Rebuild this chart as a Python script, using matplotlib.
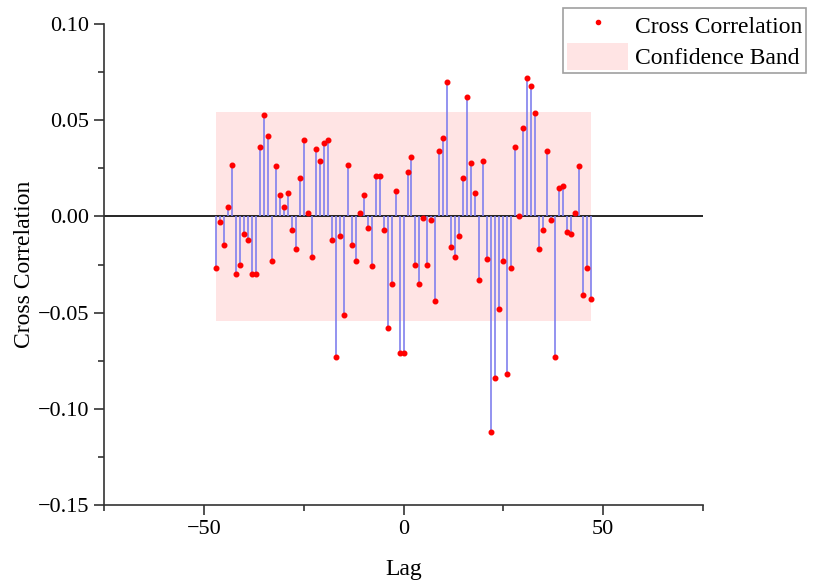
import numpy as np
import matplotlib
matplotlib.use("Agg")
import matplotlib.pyplot as plt
from matplotlib.ticker import MultipleLocator, FuncFormatter
from matplotlib.lines import Line2D
from matplotlib.patches import Patch

# lags y valores de correlacion cruzada
lags = np.arange(-47, 48)
ccf = [-0.027, -0.003, -0.015, 0.005, 0.027, -0.030, -0.025, -0.009, -0.012, -0.030,
       -0.030, 0.036, 0.053, 0.042, -0.023, 0.026, 0.011, 0.005, 0.012, -0.007,
       -0.017, 0.020, 0.040, 0.002, -0.021, 0.035, 0.029, 0.038, 0.040, -0.012,
       -0.073, -0.010, -0.051, 0.027, -0.015, -0.023, 0.002, 0.011, -0.006, -0.026,
       0.021, 0.021, -0.007, -0.058, -0.035, 0.013, -0.071, -0.071, 0.023, 0.031,
       -0.025, -0.035, -0.001, -0.025, -0.002, -0.044, 0.034, 0.041, 0.070, -0.016,
       -0.021, -0.010, 0.020, 0.062, 0.028, 0.012, -0.033, 0.029, -0.022, -0.112,
       -0.084, -0.048, -0.023, -0.082, -0.027, 0.036, 0.0004, 0.046, 0.072, 0.068,
       0.054, -0.017, -0.007, 0.034, -0.002, -0.073, 0.015, 0.016, -0.008, -0.009,
       0.002, 0.026, -0.041, -0.027, -0.043]
conf = 0.0544  # banda de confianza

plt.rcParams['font.family'] = ['Liberation Serif', 'DejaVu Serif']

fig = plt.figure(figsize=(8.16, 5.85), dpi=100)
ax = fig.add_axes([0.1275, 0.1368, 0.734, 0.822])

band_color = '#ffe4e4'
ax.fill_between([lags[0], lags[-1]], -conf, conf, color=band_color, lw=0, zorder=1)
ax.axhline(0, color='black', lw=1.2, zorder=2)
ax.vlines(lags, 0, ccf, color='#8080ee', lw=1.2, zorder=3)
ax.plot(lags, ccf, 'o', color='red', markersize=3.3, zorder=4)

ax.set_xlim(-75, 75)
ax.set_ylim(-0.15, 0.10)
ax.xaxis.set_major_locator(MultipleLocator(50))
ax.xaxis.set_minor_locator(MultipleLocator(25))
ax.yaxis.set_major_locator(MultipleLocator(0.05))
ax.yaxis.set_minor_locator(MultipleLocator(0.025))
ax.yaxis.set_major_formatter(FuncFormatter(lambda v, p: ('%.2f' % v).replace('-', '\u2212')))

for s in ['top', 'right']:
    ax.spines[s].set_visible(False)
for s in ['left', 'bottom']:
    ax.spines[s].set_color('#333333')
    ax.spines[s].set_linewidth(1.2)

ax.tick_params(which='major', length=7, width=1.2, labelsize=16, color='#333333')
ax.tick_params(which='minor', length=4, width=1.2, color='#333333')

ax.set_xlabel('Lag', fontsize=17, labelpad=15)
ax.set_ylabel('Cross Correlation', fontsize=17, labelpad=2)

handles = [Line2D([], [], marker='o', color='red', ls='', markersize=3),
           Patch(facecolor=band_color, edgecolor='none')]
leg = fig.legend(handles, ['Cross Correlation', 'Confidence Band'],
                 loc='upper right', bbox_to_anchor=(0.988, 0.986),
                 fontsize=17, frameon=True, fancybox=False,
                 handlelength=2.6, handleheight=1.4, handletextpad=0.3,
                 borderpad=0.15, labelspacing=0.15, borderaxespad=0)
leg.get_frame().set_edgecolor('#888888')
leg.get_frame().set_linewidth(1.2)

fig.savefig('out.png', dpi=100)
